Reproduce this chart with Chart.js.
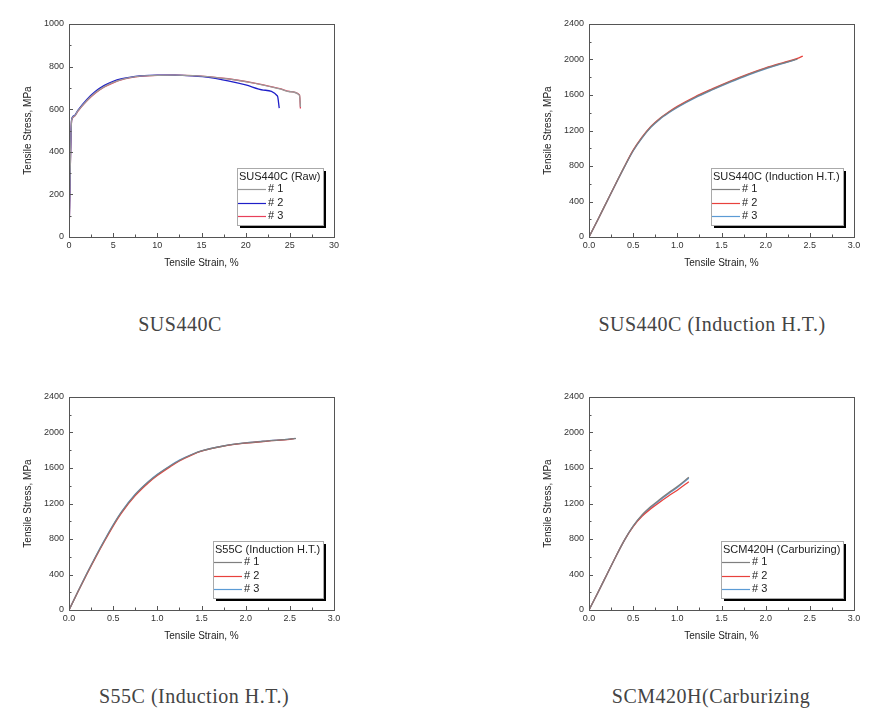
<!DOCTYPE html>
<html>
<head>
<meta charset="utf-8">
<script src="https://cdn.jsdelivr.net/npm/chart.js@4.4.1/dist/chart.umd.min.js"></script>
<style>
  body { margin: 0; background: #fff; }
  #page { position: relative; width: 881px; height: 719px; overflow: hidden; }
  .panel { position: absolute; width: 350px; height: 275px; }
  .caption {
    position: absolute; width: 360px; text-align: center;
    font-family: "Liberation Serif", "DejaVu Serif", serif; font-size: 20px; color: #444;
    letter-spacing: 0.5px;
  }
</style>
</head>
<body>
<div id="page">
  <div class="panel" style="left:0;top:0"><canvas id="c1"></canvas></div>
  <div class="panel" style="left:520px;top:0"><canvas id="c2"></canvas></div>
  <div class="panel" style="left:0;top:373px"><canvas id="c3"></canvas></div>
  <div class="panel" style="left:520px;top:373px"><canvas id="c4"></canvas></div>
  <div class="caption" style="left:0;top:313px">SUS440C</div>
  <div class="caption" style="left:532px;top:313px">SUS440C (Induction H.T.)</div>
  <div class="caption" style="left:14px;top:685px">S55C (Induction H.T.)</div>
  <div class="caption" style="left:531px;top:685px">SCM420H(Carburizing</div>
</div>
<script>
// ---- data ----

// SUS440C (Raw)
var raw1Strain = [0, 0.3, 0.6, 1, 2, 3, 4, 5, 6, 7, 8, 10, 12, 14, 16, 18, 20, 22, 24, 25, 26.1, 26.2];
var raw1Stress = [0, 550, 568, 592, 640, 678, 706, 726, 740, 749, 755, 759, 760, 758, 752, 742, 729, 713, 694, 682, 665, 610];
var raw2Strain = [0, 0.3, 0.6, 1, 2, 3, 4, 5, 6, 7, 8, 10, 12, 14, 16, 18, 20, 22, 23.6, 23.8];
var raw2Stress = [0, 552, 570, 595, 645, 684, 712, 731, 743, 751, 756, 760, 760, 756, 748, 733, 714, 690, 662, 605];
var raw3Strain = [0, 0.3, 0.6, 1, 2, 3, 4, 5, 6, 7, 8, 10, 12, 14, 16, 18, 20, 22, 24, 25, 26.1, 26.2];
var raw3Stress = [0, 548, 566, 590, 638, 676, 704, 724, 739, 748, 754, 759, 760, 758, 752, 743, 730, 714, 695, 683, 667, 603];

// SUS440C (Induction H.T.)
var ih1Strain = [0, 0.1, 0.2, 0.3, 0.4, 0.5, 0.6, 0.7, 0.8, 0.9, 1.0, 1.2, 1.4, 1.6, 1.8, 2.0, 2.2, 2.36];
var ih1Stress = [0, 195, 395, 595, 790, 975, 1120, 1240, 1330, 1402, 1465, 1572, 1664, 1750, 1830, 1900, 1960, 2005];
var ih2Strain = [0, 0.1, 0.2, 0.3, 0.4, 0.5, 0.6, 0.7, 0.8, 0.9, 1.0, 1.2, 1.4, 1.6, 1.8, 2.0, 2.2, 2.36, 2.42];
var ih2Stress = [0, 195, 395, 595, 792, 978, 1125, 1246, 1336, 1408, 1472, 1580, 1671, 1757, 1836, 1906, 1966, 2012, 2038];
var ih3Strain = [0, 0.1, 0.2, 0.3, 0.4, 0.5, 0.6, 0.7, 0.8, 0.9, 1.0, 1.2, 1.4, 1.6, 1.8, 2.0, 2.2, 2.33];
var ih3Stress = [0, 195, 393, 592, 786, 970, 1115, 1235, 1325, 1397, 1460, 1567, 1659, 1745, 1825, 1895, 1955, 1995];

// S55C (Induction H.T.)
var s551Strain = [0, 0.1, 0.2, 0.3, 0.4, 0.5, 0.6, 0.75, 0.9, 1.0, 1.15, 1.25, 1.4, 1.5, 1.75, 2.0, 2.25, 2.5, 2.57];
var s551Stress = [0, 205, 405, 597, 780, 955, 1110, 1300, 1445, 1525, 1625, 1685, 1755, 1792, 1848, 1882, 1905, 1925, 1935];
var s552Strain = [0, 0.1, 0.2, 0.3, 0.4, 0.5, 0.6, 0.75, 0.9, 1.0, 1.15, 1.25, 1.4, 1.5, 1.75, 2.0, 2.25, 2.5, 2.55];
var s552Stress = [0, 203, 400, 590, 772, 946, 1100, 1288, 1434, 1515, 1617, 1679, 1751, 1789, 1846, 1880, 1903, 1923, 1930];
var s553Strain = [0, 0.1, 0.2, 0.3, 0.4, 0.5, 0.6, 0.75, 0.9, 1.0, 1.15, 1.25, 1.4, 1.5, 1.75, 2.0, 2.25, 2.5, 2.56];
var s553Stress = [0, 206, 407, 600, 784, 959, 1114, 1304, 1448, 1528, 1628, 1688, 1757, 1794, 1849, 1883, 1906, 1926, 1934];

// SCM420H (Carburizing)
var scm1Strain = [0, 0.1, 0.2, 0.3, 0.4, 0.5, 0.6, 0.7, 0.8, 0.9, 1.0, 1.13];
var scm1Stress = [0, 195, 395, 595, 785, 945, 1070, 1165, 1245, 1320, 1390, 1495];
var scm2Strain = [0, 0.1, 0.2, 0.3, 0.4, 0.5, 0.6, 0.7, 0.8, 0.9, 1.0, 1.13];
var scm2Stress = [0, 195, 395, 595, 785, 940, 1055, 1140, 1215, 1285, 1350, 1445];
var scm3Strain = [0, 0.1, 0.2, 0.3, 0.4, 0.5, 0.6, 0.7, 0.8, 0.9, 1.0, 1.13];
var scm3Stress = [0, 195, 395, 595, 785, 945, 1065, 1155, 1235, 1310, 1380, 1485];

// tick labels
var rawXTicks = [0, 5, 10, 15, 20, 25, 30];
var rawYTicks = [0, 200, 400, 600, 800, 1000];
var htXTicks = [0, 0.5, 1.0, 1.5, 2.0, 2.5, 3.0];
var htYTicks = [0, 400, 800, 1200, 1600, 2000, 2400];

var seriesNames = ['# 1', '# 2', '# 3'];

// ---- helpers ----
var sans = '"Liberation Sans", Arial, sans-serif';

function pts(xs, ys) {
  return xs.map(function (x, i) { return { x: x, y: ys[i] }; });
}

// frame, inward ticks and the boxed legend with its drop shadow
var framePlugin = {
  id: 'paperFrame',
  afterDraw: function (chart, args, opts) {
    var ctx = chart.ctx, ca = chart.chartArea;
    var xs = chart.scales.x, ys = chart.scales.y;
    ctx.save();
    ctx.strokeStyle = '#555';
    ctx.lineWidth = 1;
    ctx.strokeRect(Math.round(ca.left) + 0.5, Math.round(ca.top) + 0.5,
      Math.round(ca.right - ca.left), Math.round(ca.bottom - ca.top));

    ctx.beginPath();
    for (var v = xs.min; v <= xs.max + 1e-9; v += opts.minorX) {
      var px = Math.round(xs.getPixelForValue(v)) + 0.5;
      var major = Math.abs(v / opts.majorX - Math.round(v / opts.majorX)) < 1e-6;
      ctx.moveTo(px, ca.bottom);
      ctx.lineTo(px, ca.bottom - (major ? 4 : 2.5));
    }
    for (var w = ys.min; w <= ys.max + 1e-9; w += opts.minorY) {
      var py = Math.round(ys.getPixelForValue(w)) + 0.5;
      var majorY = Math.abs(w / opts.majorY - Math.round(w / opts.majorY)) < 1e-6;
      ctx.moveTo(ca.left, py);
      ctx.lineTo(ca.left + (majorY ? 4 : 2.5), py);
    }
    ctx.stroke();

    // legend
    ctx.font = '11px ' + sans;
    var bw = Math.round(ctx.measureText(opts.title).width + 5);
    var bh = 57;
    var bx = Math.round(ca.right - 11 - bw);
    var by = Math.round(ca.bottom - 12 - bh);
    ctx.fillStyle = '#000';
    ctx.fillRect(bx + 3, by + 3, bw, bh);
    ctx.fillStyle = '#fff';
    ctx.fillRect(bx, by, bw, bh);
    ctx.strokeStyle = '#aaa';
    ctx.strokeRect(bx + 0.5, by + 0.5, bw, bh);
    ctx.fillStyle = '#222';
    ctx.textBaseline = 'middle';
    ctx.fillText(opts.title, bx + 2, by + 9);
    chart.data.datasets.forEach(function (ds, i) {
      var ry = by + 21 + i * 13.5;
      ctx.strokeStyle = ds.borderColor;
      ctx.lineWidth = 1.2;
      ctx.beginPath();
      ctx.moveTo(bx + 1, Math.round(ry) + 0.5);
      ctx.lineTo(bx + 29, Math.round(ry) + 0.5);
      ctx.stroke();
      ctx.fillStyle = '#222';
      ctx.fillText(ds.label, bx + 31, ry);
    });
    ctx.restore();
  }
};

function makeChart(id, series, colors, xTicks, yTicks, xDigits, minor, title) {
  var datasets = series.map(function (s, i) {
    return {
      label: seriesNames[i],
      data: s,
      borderColor: colors[i],
      borderWidth: 1.3,
      pointRadius: 0,
      showLine: true,
      fill: false,
      cubicInterpolationMode: 'monotone'
    };
  });
  return new Chart(document.getElementById(id), {
    type: 'scatter',
    data: { datasets: datasets },
    options: {
      responsive: true,
      maintainAspectRatio: false,
      animation: false,
      events: [],
      layout: { padding: { top: 24, right: 16, bottom: 0, left: 0 } },
      plugins: {
        legend: { display: false },
        tooltip: { enabled: false },
        paperFrame: {
          title: title,
          majorX: xTicks[1] - xTicks[0], minorX: minor[0],
          majorY: yTicks[1] - yTicks[0], minorY: minor[1]
        }
      },
      scales: {
        x: {
          type: 'linear',
          min: xTicks[0], max: xTicks[xTicks.length - 1],
          afterBuildTicks: function (s) { s.ticks = xTicks.map(function (v) { return { value: v }; }); },
          afterFit: function (s) { s.height = 38; },
          grid: { display: false, drawTicks: false },
          border: { display: false },
          ticks: {
            padding: 3, maxRotation: 0, color: '#333',
            font: { family: sans, size: 9 },
            callback: function (v) { return v.toFixed(xDigits); }
          },
          title: {
            display: true, text: 'Tensile Strain, %', color: '#222',
            font: { family: sans, size: 10 }, padding: { top: 0, bottom: 6 }
          }
        },
        y: {
          type: 'linear',
          min: yTicks[0], max: yTicks[yTicks.length - 1],
          afterBuildTicks: function (s) { s.ticks = yTicks.map(function (v) { return { value: v }; }); },
          afterFit: function (s) { s.width = 69; },
          grid: { display: false, drawTicks: false },
          border: { display: false },
          ticks: {
            padding: 5, color: '#333',
            font: { family: sans, size: 9 },
            callback: function (v) { return String(v); }
          },
          title: {
            display: true, text: 'Tensile Stress, MPa', color: '#222',
            font: { family: sans, size: 10 }, padding: { top: 22, bottom: 0 }
          }
        }
      }
    },
    plugins: [framePlugin]
  });
}

var htColors = ['#7f7f7f', '#e8413c', '#5b9bd5'];

makeChart('c1',
  [pts(raw1Strain, raw1Stress), pts(raw2Strain, raw2Stress), pts(raw3Strain, raw3Stress)],
  ['#999999', '#1f1fc8', '#e8405a'], rawXTicks, rawYTicks, 0, [2.5, 100], 'SUS440C (Raw)');

makeChart('c2',
  [pts(ih1Strain, ih1Stress), pts(ih2Strain, ih2Stress), pts(ih3Strain, ih3Stress)],
  htColors, htXTicks, htYTicks, 1, [0.25, 200], 'SUS440C (Induction H.T.)');

makeChart('c3',
  [pts(s551Strain, s551Stress), pts(s552Strain, s552Stress), pts(s553Strain, s553Stress)],
  htColors, htXTicks, htYTicks, 1, [0.25, 200], 'S55C (Induction H.T.)');

makeChart('c4',
  [pts(scm1Strain, scm1Stress), pts(scm2Strain, scm2Stress), pts(scm3Strain, scm3Stress)],
  htColors, htXTicks, htYTicks, 1, [0.25, 200], 'SCM420H (Carburizing)');
</script>
</body>
</html>
